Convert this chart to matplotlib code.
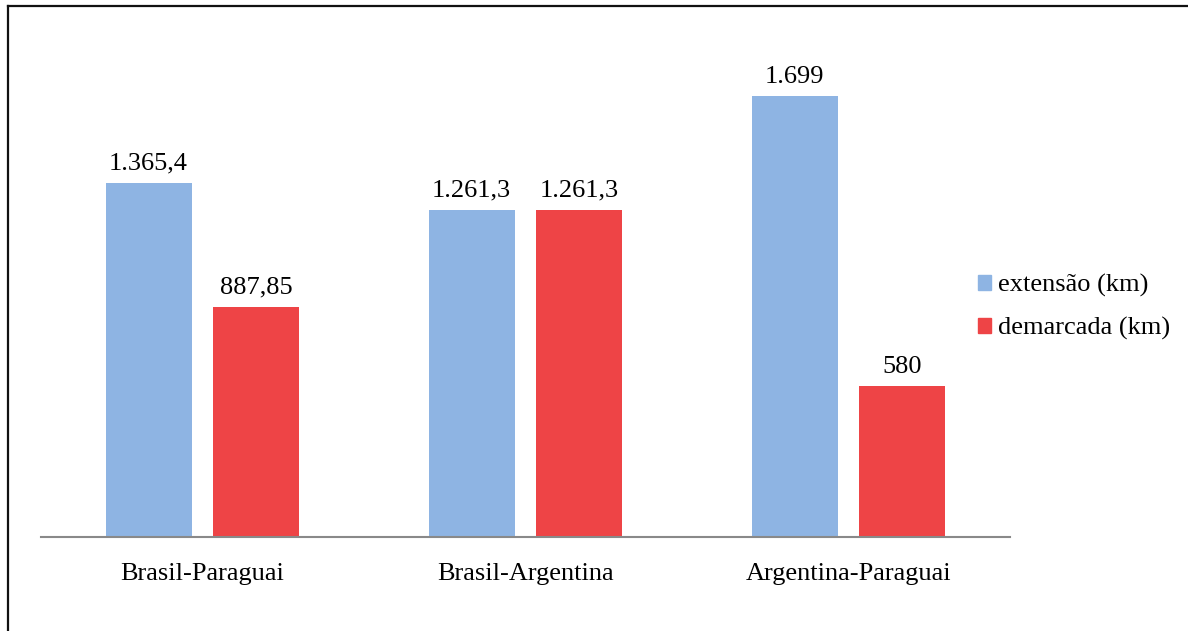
import matplotlib.pyplot as plt
import matplotlib.patches as mpatches
import numpy as np

# Fronteiras e extensões (km)
fronteiras = ['Brasil-Paraguai', 'Brasil-Argentina', 'Argentina-Paraguai']
extensao   = [1365.4, 1261.3, 1699]
demarcada  = [887.85, 1261.3, 580]

cor_ext = '#8EB4E3'
cor_dem = '#EE4446'

plt.rcParams['font.family'] = ['Liberation Serif', 'DejaVu Serif']


def fmt_br(v):
    # 1365.4 -> '1.365,4'
    s = str(v)
    if '.' in s:
        inteiro, dec = s.split('.')
    else:
        inteiro, dec = s, ''
    grupos = []
    while len(inteiro) > 3:
        grupos.insert(0, inteiro[-3:])
        inteiro = inteiro[:-3]
    grupos.insert(0, inteiro)
    out = '.'.join(grupos)
    if dec:
        out += ',' + dec
    return out


W, H = 1188, 631
fig = plt.figure(figsize=(W / 100, H / 100), dpi=100)
ax = fig.add_axes([41 / W, 94 / H, 969 / W, 519 / H])

x = np.arange(len(fronteiras))
larg = 0.266
desl = 0.167

b1 = ax.bar(x - desl, extensao, larg, color=cor_ext, label='extensão (km)')
b2 = ax.bar(x + desl, demarcada, larg, color=cor_dem, label='demarcada (km)')

for barras, vals in [(b1, extensao), (b2, demarcada)]:
    for b, v in zip(barras, vals):
        ax.annotate(fmt_br(v), (b.get_x() + b.get_width() / 2, v),
                    xytext=(0, 9.5), textcoords='offset points',
                    ha='center', va='baseline', fontsize=19)

ax.set_xlim(-0.5, 2.5)
ax.set_ylim(0, 2000)
ax.set_xticks(x)
ax.set_xticklabels(fronteiras, fontsize=19)
ax.tick_params(axis='x', length=0, pad=19)
ax.set_yticks([])
for lado in ['top', 'right', 'left']:
    ax.spines[lado].set_visible(False)
ax.spines['bottom'].set_color('#898989')
ax.spines['bottom'].set_linewidth(1.5)

handles = [mpatches.Patch(color=cor_ext), mpatches.Patch(color=cor_dem)]
fig.legend(handles, ['extensão (km)', 'demarcada (km)'],
           loc='center left', bbox_to_anchor=(965 / W, 1 - 307 / H),
           frameon=False, fontsize=19, handlelength=0.5, handleheight=0.5,
           handletextpad=0.25, labelspacing=0.75, borderpad=0)

# moldura (apenas topo e esquerda)
fig.add_artist(plt.Line2D([8 / W, 8 / W], [0, 1 - 6 / H], color='#111111',
                          lw=1.6, transform=fig.transFigure))
fig.add_artist(plt.Line2D([8 / W, 1], [1 - 6 / H, 1 - 6 / H], color='#111111',
                          lw=1.6, transform=fig.transFigure))

fig.savefig('out.png', dpi=100)
